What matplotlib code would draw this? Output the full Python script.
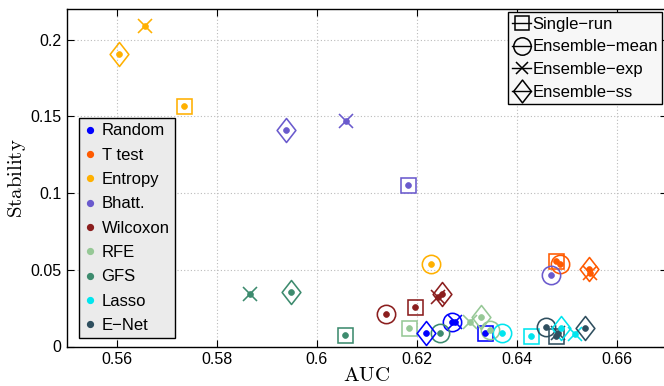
import matplotlib
matplotlib.use("Agg")
import matplotlib.pyplot as plt
from matplotlib.lines import Line2D
from matplotlib.path import Path

plt.rcParams['font.family'] = ['Liberation Sans', 'DejaVu Sans']
plt.rcParams['mathtext.fontset'] = 'cm'

methods = ['Random', 'T test', 'Entropy', 'Bhatt.', 'Wilcoxon', 'RFE', 'GFS', 'Lasso', 'E\u2212Net']
colors = ['#0000FF', '#FF5A00', '#FFB000', '#6A5ACD', '#8B1E1E', '#96C896', '#3D8B6E', '#00E5EE', '#2F4F5F']

# AUC / Stability per method for each ensemble style
single_auc = [0.6336, 0.6479, 0.5734, 0.6182, 0.6195, 0.6184, 0.6056, 0.6427, 0.6479]
single_stab = [0.0090, 0.0560, 0.1570, 0.1054, 0.0256, 0.0123, 0.0075, 0.0068, 0.0070]
mean_auc = [0.6271, 0.6486, 0.6229, 0.6467, 0.6138, 0.6346, 0.6246, 0.6371, 0.6457]
mean_stab = [0.0158, 0.0538, 0.0538, 0.0468, 0.0210, 0.0108, 0.0090, 0.0090, 0.0125]
exp_auc = [0.6276, 0.6547, 0.5656, 0.6058, 0.6243, 0.6306, 0.5867, 0.6516, 0.6483]
exp_stab = [0.0158, 0.0478, 0.2091, 0.1471, 0.0325, 0.0158, 0.0342, 0.0080, 0.0086]
ss_auc = [0.6219, 0.6545, 0.5604, 0.5938, 0.6251, 0.6329, 0.5949, 0.6489, 0.6536]
ss_stab = [0.0090, 0.0504, 0.1908, 0.1412, 0.0341, 0.0190, 0.0354, 0.0119, 0.0123]

style_names = ['Single\u2212run', 'Ensemble\u2212mean', 'Ensemble\u2212exp', 'Ensemble\u2212ss']

x_ticks = [0.56, 0.58, 0.6, 0.62, 0.64, 0.66]
x_tick_labels = ['0.56', '0.58', '0.6', '0.62', '0.64', '0.66']
y_ticks = [0, 0.05, 0.1, 0.15, 0.2]
y_tick_labels = ['0', '0.05', '0.1', '0.15', '0.2']

diamond = Path([(0, 1), (0.78, 0), (0, -1), (-0.78, 0), (0, 1)],
               [Path.MOVETO, Path.LINETO, Path.LINETO, Path.LINETO, Path.CLOSEPOLY])

marker_specs = [('s', 10.8), ('o', 13.2), ('x', 9.6), (diamond, 17.3)]
data_sets = [(single_auc, single_stab), (mean_auc, mean_stab),
             (exp_auc, exp_stab), (ss_auc, ss_stab)]

fig = plt.figure(figsize=(6.64, 3.86), dpi=100)
ax = fig.add_axes([67 / 664, 39.5 / 386, 600 / 664, 337.5 / 386])

lw = 1.15
for (mk, ms), (xs, ys) in zip(marker_specs, data_sets):
    for i in range(len(methods)):
        c = colors[i]
        ax.plot([xs[i]], [ys[i]], linestyle='none', marker=mk, markersize=ms,
                markerfacecolor='none', markeredgecolor=c, markeredgewidth=lw, zorder=3)
        ax.plot([xs[i]], [ys[i]], linestyle='none', marker='o', markersize=4.2,
                markerfacecolor=c, markeredgecolor=c, markeredgewidth=0.5, zorder=4)

ax.set_xlim(0.55, 0.67)
ax.set_ylim(0, 0.22)
ax.set_xticks(x_ticks)
ax.set_xticklabels(x_tick_labels)
ax.set_yticks(y_ticks)
ax.set_yticklabels(y_tick_labels)
ax.tick_params(direction='in', length=5, width=0.8, top=True, right=True,
               labelsize=11.5, pad=4)
ax.grid(True, linestyle=(0, (1, 2)), color='#BBBBBB', linewidth=0.8)
ax.set_axisbelow(True)
for s in ax.spines.values():
    s.set_linewidth(1.0)

ax.set_xlabel(r'$\mathrm{AUC}$', fontsize=15, labelpad=-1)
ax.set_ylabel(r'$\mathrm{Stability}$', fontsize=15, labelpad=2)

# method legend (dots)
h1 = [Line2D([], [], linestyle='none', marker='o', markersize=4.2,
             markerfacecolor=c, markeredgecolor=c) for c in colors]
leg1 = ax.legend(h1, methods, loc='lower left', bbox_to_anchor=(0.02, 0.025),
                 borderaxespad=0, fontsize=12, frameon=True, fancybox=False,
                 facecolor='#EBEBEB', edgecolor='black', framealpha=1,
                 handlelength=0.7, handletextpad=0.35, labelspacing=0.56,
                 borderpad=0.3)
leg1.get_frame().set_linewidth(1.0)
ax.add_artist(leg1)

# style legend
h2 = [Line2D([], [], color='black', linewidth=1.0, marker=mk, markersize=ms * 0.95,
             markerfacecolor='none', markeredgecolor='black', markeredgewidth=1.1)
      for mk, ms in marker_specs]
leg2 = ax.legend(h2, style_names, loc='upper right', bbox_to_anchor=(0.9917, 0.99),
                 borderaxespad=0, fontsize=12, frameon=True, fancybox=False,
                 facecolor='#F7F7F7', edgecolor='black', framealpha=1,
                 handlelength=1.1, handletextpad=0.1, labelspacing=0.47,
                 borderpad=0.25)
leg2.get_frame().set_linewidth(1.0)

fig.savefig('out.png', dpi=100)
